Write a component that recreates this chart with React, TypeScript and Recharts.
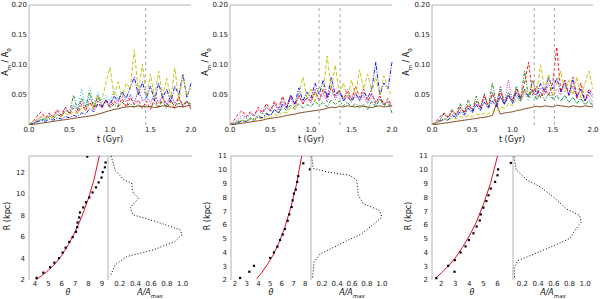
import { LineChart, Line, XAxis, YAxis, ReferenceLine, ScatterChart, Scatter } from 'recharts';

// time grid (Gyr)
const TIME = [0, 0.05, 0.1, 0.15, 0.2, 0.25, 0.3, 0.35, 0.4, 0.45, 0.5, 0.55, 0.6, 0.65, 0.7, 0.75, 0.8, 0.85, 0.9, 0.95, 1.0,
  1.05, 1.1, 1.15, 1.2, 1.25, 1.3, 1.35, 1.4, 1.45, 1.5, 1.55, 1.6, 1.65, 1.7, 1.75, 1.8, 1.85, 1.9, 1.95, 2.0];

const T_TICKS = [0, 0.5, 1.0, 1.5, 2.0];
const A_TICKS = [0.05, 0.1, 0.15, 0.2];

// panel 1 amplitudes
const P1_YEL = [0.002, 0.004, 0.010, 0.014, 0.011, 0.015, 0.012, 0.017, 0.014, 0.019, 0.016, 0.022, 0.019, 0.028, 0.024, 0.036, 0.030, 0.048, 0.042, 0.070, 0.096, 0.048, 0.072, 0.045, 0.070, 0.060, 0.125, 0.055, 0.102, 0.048, 0.085, 0.044, 0.090, 0.050, 0.078, 0.045, 0.095, 0.040, 0.082, 0.048, 0.062];
const P1_BLU = [0.001, 0.003, 0.005, 0.008, 0.006, 0.010, 0.008, 0.012, 0.010, 0.014, 0.012, 0.016, 0.014, 0.020, 0.018, 0.028, 0.022, 0.035, 0.030, 0.042, 0.035, 0.048, 0.040, 0.055, 0.045, 0.062, 0.080, 0.050, 0.072, 0.045, 0.065, 0.040, 0.070, 0.045, 0.060, 0.038, 0.065, 0.050, 0.085, 0.045, 0.070];
const P1_RED = [0.001, 0.006, 0.015, 0.022, 0.012, 0.020, 0.014, 0.026, 0.016, 0.030, 0.018, 0.028, 0.020, 0.034, 0.024, 0.038, 0.026, 0.040, 0.028, 0.042, 0.030, 0.040, 0.032, 0.044, 0.030, 0.046, 0.034, 0.042, 0.028, 0.040, 0.026, 0.044, 0.030, 0.046, 0.032, 0.042, 0.028, 0.048, 0.030, 0.040, 0.026];
const P1_GRN = [0.001, 0.002, 0.006, 0.010, 0.008, 0.014, 0.010, 0.018, 0.014, 0.024, 0.020, 0.050, 0.025, 0.045, 0.030, 0.055, 0.028, 0.048, 0.030, 0.040, 0.028, 0.035, 0.030, 0.038, 0.032, 0.036, 0.030, 0.034, 0.028, 0.032, 0.030, 0.036, 0.030, 0.040, 0.028, 0.038, 0.032, 0.036, 0.034, 0.040, 0.035];
const P1_MAG = [0.001, 0.004, 0.008, 0.014, 0.010, 0.018, 0.014, 0.024, 0.016, 0.028, 0.020, 0.032, 0.024, 0.040, 0.026, 0.045, 0.030, 0.050, 0.034, 0.040, 0.032, 0.048, 0.036, 0.055, 0.038, 0.050, 0.034, 0.060, 0.040, 0.045, 0.036, 0.052, 0.038, 0.048, 0.034, 0.050, 0.036, 0.045, 0.032, 0.040, 0.030];
const P1_CYA = [0.001, 0.003, 0.006, 0.010, 0.008, 0.016, 0.012, 0.022, 0.016, 0.030, 0.020, 0.034, 0.026, 0.060, 0.030, 0.062, 0.034, 0.055, 0.036, 0.050, 0.040, 0.060, 0.042, 0.058, 0.044, 0.052, 0.040, 0.056, 0.042, 0.048, 0.038, 0.050, 0.036, 0.046, 0.034, 0.048, 0.036, 0.042, 0.032, 0.040, 0.030];
const P1_DRK = [0.000, 0.001, 0.002, 0.003, 0.004, 0.005, 0.006, 0.007, 0.008, 0.009, 0.010, 0.011, 0.012, 0.013, 0.014, 0.015, 0.016, 0.018, 0.020, 0.022, 0.024, 0.026, 0.027, 0.029, 0.030, 0.031, 0.030, 0.032, 0.031, 0.030, 0.031, 0.029, 0.030, 0.032, 0.031, 0.030, 0.029, 0.031, 0.030, 0.032, 0.033];

// panel 2 amplitudes
const P2_YEL = [0.001, 0.003, 0.006, 0.008, 0.007, 0.010, 0.009, 0.012, 0.010, 0.014, 0.012, 0.018, 0.015, 0.022, 0.020, 0.030, 0.026, 0.050, 0.080, 0.045, 0.060, 0.040, 0.065, 0.055, 0.115, 0.060, 0.100, 0.050, 0.070, 0.045, 0.075, 0.050, 0.092, 0.060, 0.085, 0.055, 0.080, 0.050, 0.082, 0.060, 0.048];
const P2_BLU = [0.001, 0.002, 0.004, 0.007, 0.006, 0.010, 0.008, 0.014, 0.012, 0.018, 0.016, 0.026, 0.020, 0.035, 0.028, 0.050, 0.035, 0.062, 0.040, 0.055, 0.045, 0.070, 0.050, 0.075, 0.045, 0.080, 0.050, 0.058, 0.040, 0.048, 0.038, 0.052, 0.042, 0.055, 0.045, 0.060, 0.105, 0.050, 0.070, 0.060, 0.105];
const P2_RED = [0.001, 0.008, 0.018, 0.024, 0.014, 0.022, 0.016, 0.030, 0.020, 0.036, 0.024, 0.040, 0.028, 0.048, 0.030, 0.050, 0.034, 0.048, 0.036, 0.045, 0.040, 0.055, 0.042, 0.060, 0.046, 0.062, 0.048, 0.058, 0.044, 0.055, 0.042, 0.065, 0.046, 0.060, 0.040, 0.052, 0.036, 0.048, 0.034, 0.044, 0.032];
const P2_GRN = [0.001, 0.002, 0.005, 0.008, 0.006, 0.012, 0.010, 0.016, 0.012, 0.020, 0.016, 0.026, 0.020, 0.030, 0.024, 0.034, 0.026, 0.036, 0.028, 0.034, 0.030, 0.040, 0.032, 0.038, 0.030, 0.042, 0.034, 0.040, 0.032, 0.038, 0.030, 0.036, 0.028, 0.034, 0.026, 0.040, 0.030, 0.044, 0.032, 0.038, 0.020];
const P2_MAG = [0.001, 0.004, 0.010, 0.016, 0.012, 0.020, 0.016, 0.026, 0.018, 0.030, 0.022, 0.036, 0.024, 0.040, 0.028, 0.045, 0.030, 0.050, 0.034, 0.045, 0.036, 0.060, 0.040, 0.055, 0.038, 0.065, 0.042, 0.058, 0.040, 0.060, 0.044, 0.055, 0.040, 0.050, 0.036, 0.052, 0.038, 0.048, 0.034, 0.040, 0.030];
const P2_CYA = [0.001, 0.003, 0.007, 0.012, 0.010, 0.018, 0.014, 0.024, 0.018, 0.030, 0.022, 0.036, 0.026, 0.046, 0.030, 0.050, 0.034, 0.052, 0.036, 0.048, 0.040, 0.054, 0.042, 0.050, 0.044, 0.056, 0.046, 0.052, 0.042, 0.050, 0.040, 0.048, 0.038, 0.046, 0.036, 0.044, 0.034, 0.042, 0.032, 0.040, 0.030];
const P2_DRK = [0.000, 0.001, 0.002, 0.003, 0.004, 0.005, 0.006, 0.007, 0.008, 0.010, 0.011, 0.012, 0.013, 0.014, 0.016, 0.017, 0.018, 0.020, 0.021, 0.022, 0.023, 0.024, 0.025, 0.026, 0.028, 0.030, 0.029, 0.031, 0.030, 0.032, 0.031, 0.030, 0.032, 0.031, 0.030, 0.029, 0.031, 0.032, 0.030, 0.031, 0.032];

// panel 3 amplitudes
const P3_YEL = [0.001, 0.003, 0.006, 0.009, 0.008, 0.012, 0.010, 0.014, 0.012, 0.016, 0.014, 0.018, 0.016, 0.020, 0.018, 0.024, 0.022, 0.030, 0.028, 0.036, 0.032, 0.045, 0.040, 0.060, 0.045, 0.075, 0.055, 0.100, 0.060, 0.085, 0.050, 0.070, 0.090, 0.055, 0.075, 0.050, 0.080, 0.045, 0.070, 0.090, 0.060];
const P3_BLU = [0.001, 0.003, 0.006, 0.010, 0.008, 0.016, 0.012, 0.022, 0.016, 0.028, 0.020, 0.034, 0.024, 0.038, 0.028, 0.040, 0.030, 0.048, 0.034, 0.050, 0.036, 0.055, 0.040, 0.060, 0.045, 0.075, 0.050, 0.070, 0.055, 0.080, 0.060, 0.078, 0.055, 0.070, 0.050, 0.075, 0.048, 0.060, 0.040, 0.055, 0.045];
const P3_RED = [0.001, 0.006, 0.014, 0.020, 0.012, 0.024, 0.016, 0.030, 0.020, 0.034, 0.024, 0.040, 0.028, 0.050, 0.030, 0.052, 0.034, 0.055, 0.036, 0.050, 0.040, 0.060, 0.045, 0.070, 0.105, 0.050, 0.065, 0.045, 0.060, 0.050, 0.070, 0.130, 0.055, 0.075, 0.050, 0.080, 0.045, 0.070, 0.040, 0.060, 0.050];
const P3_GRN = [0.001, 0.003, 0.008, 0.020, 0.014, 0.026, 0.018, 0.036, 0.020, 0.042, 0.024, 0.048, 0.028, 0.052, 0.030, 0.070, 0.034, 0.060, 0.036, 0.055, 0.040, 0.065, 0.042, 0.090, 0.046, 0.060, 0.042, 0.055, 0.040, 0.052, 0.044, 0.048, 0.040, 0.050, 0.038, 0.046, 0.036, 0.044, 0.034, 0.040, 0.032];
const P3_MAG = [0.001, 0.004, 0.010, 0.018, 0.012, 0.022, 0.016, 0.028, 0.020, 0.032, 0.024, 0.040, 0.028, 0.046, 0.030, 0.055, 0.034, 0.065, 0.038, 0.075, 0.040, 0.060, 0.044, 0.055, 0.046, 0.058, 0.048, 0.062, 0.050, 0.070, 0.046, 0.060, 0.050, 0.075, 0.048, 0.065, 0.044, 0.060, 0.040, 0.050, 0.036];
const P3_CYA = [0.001, 0.003, 0.007, 0.012, 0.010, 0.018, 0.014, 0.024, 0.018, 0.028, 0.022, 0.032, 0.026, 0.038, 0.030, 0.042, 0.032, 0.046, 0.034, 0.050, 0.036, 0.048, 0.038, 0.052, 0.040, 0.050, 0.042, 0.054, 0.044, 0.052, 0.042, 0.050, 0.040, 0.048, 0.038, 0.046, 0.036, 0.044, 0.034, 0.042, 0.032];
const P3_DRK = [0.000, 0.001, 0.002, 0.003, 0.004, 0.005, 0.006, 0.007, 0.008, 0.009, 0.010, 0.011, 0.012, 0.013, 0.014, 0.016, 0.035, 0.018, 0.020, 0.021, 0.022, 0.024, 0.025, 0.027, 0.028, 0.030, 0.031, 0.030, 0.032, 0.031, 0.030, 0.033, 0.032, 0.031, 0.030, 0.032, 0.031, 0.030, 0.032, 0.031, 0.030];

// vertical markers (Gyr)
const P1_MARKS = [1.44];
const P2_MARKS = [1.1, 1.36];
const P3_MARKS = [1.27, 1.52];

// pitch angle vs radius: measured points
const S1_THETA = [4.12, 4.62, 5.12, 5.44, 5.79, 6.06, 6.29, 6.56, 6.81, 7.06, 7.15, 7.18, 7.3, 7.36, 7.6, 7.8, 8.05, 8.3, 8.55, 8.75, 8.97, 9.05, 9.22, 9.27, 7.9];
const S1_R = [2.2, 2.68, 3.18, 3.61, 4.02, 4.54, 5.0, 5.53, 5.97, 6.47, 6.9, 7.33, 7.8, 8.26, 8.73, 9.2, 9.66, 10.12, 10.59, 11.05, 11.5, 12.0, 12.45, 12.9, 13.45];
const S2_THETA = [2.43, 3.22, 3.62, 5.0, 5.33, 5.62, 5.85, 6.08, 6.27, 6.5, 6.64, 6.84, 6.93, 7.04, 7.2, 7.32, 7.41, 7.84, 8.41];
const S2_R = [2.15, 2.6, 3.03, 3.6, 4.0, 4.42, 4.9, 5.3, 5.7, 6.3, 6.76, 7.3, 7.78, 8.27, 8.56, 9.12, 9.54, 10.47, 10.03];
const S3_THETA = [1.66, 2.5, 2.95, 2.97, 3.38, 3.73, 3.97, 4.29, 4.52, 4.74, 4.81, 5.0, 5.21, 5.36, 5.52, 5.83, 6.0, 6.04, 6.95];
const S3_R = [2.13, 3.03, 2.6, 3.44, 4.0, 4.44, 4.9, 5.39, 5.88, 6.32, 6.76, 7.25, 7.73, 8.15, 8.64, 9.12, 9.6, 10.03, 10.5];

// fitted spiral (red)
const F1_THETA = [4.05, 4.5, 5.0, 5.5, 6.0, 6.5, 7.0, 7.5, 8.0, 8.4, 8.8];
const F1_R = [2.0, 2.4, 2.9, 3.5, 4.3, 5.3, 6.5, 7.9, 9.6, 11.3, 13.5];
const F2_THETA = [3.85, 4.25, 4.75, 5.25, 5.75, 6.25, 6.75, 7.25, 7.7];
const F2_R = [2.1, 2.5, 3.1, 3.8, 4.7, 5.8, 7.2, 8.9, 11.0];
const F3_THETA = [1.6, 2.0, 2.5, 3.0, 3.5, 4.0, 4.5, 5.0, 5.5, 6.0];
const F3_R = [2.13, 2.5, 3.0, 3.6, 4.35, 5.2, 6.2, 7.5, 9.0, 11.0];

// amplitude profiles A/A_max vs R
const Q1_A = [0.09, 0.14, 0.25, 0.35, 0.37, 0.44, 0.33, 0.37, 0.67, 0.97, 0.99, 0.9, 0.63, 0.29, 0.14, 0.076];
const Q1_R = [13.5, 12.2, 11.3, 11.0, 10.07, 9.6, 8.67, 8.05, 7.4, 6.65, 6.2, 5.56, 4.8, 4.17, 3.4, 2.3];
const Q2_A = [0.06, 0.08, 0.26, 0.57, 0.66, 0.68, 0.68, 0.75, 0.97, 1.0, 0.84, 0.73, 0.53, 0.35, 0.17, 0.09, 0.07];
const Q2_R = [10.95, 10.1, 9.85, 9.6, 9.25, 8.64, 8.2, 7.54, 7.05, 6.56, 5.83, 5.35, 4.85, 4.36, 3.88, 3.27, 2.17];
const Q3_A = [0.095, 0.12, 0.26, 0.43, 0.6, 0.76, 0.93, 0.95, 0.87, 0.8, 0.55, 0.35, 0.14, 0.095, 0.1];
const Q3_R = [10.95, 10.0, 9.25, 8.75, 8.0, 7.17, 6.68, 6.2, 5.6, 5.0, 4.37, 3.88, 3.4, 2.9, 2.17];

const PROFILE_TICKS = [0.2, 0.4, 0.6, 0.8, 1.0];

const FONT = '"DejaVu Sans", sans-serif';
const AXIS = '#b4b4b4';
const TICK = { fontSize: 7, fill: '#222', fontFamily: FONT };

const STYLES = [
  { key: 'drk', color: '#7a3a10', dash: undefined },
  { key: 'cya', color: '#00bfbf', dash: '1 2' },
  { key: 'mag', color: '#bf00bf', dash: '1 1.5' },
  { key: 'grn', color: '#008000', dash: '3 1.5 1 1.5' },
  { key: 'red', color: '#ff0000', dash: '3 2' },
  { key: 'blu', color: '#0000ff', dash: '4 1.5 1 1.5' },
  { key: 'yel', color: '#bfbf00', dash: '4 2' },
];

const pairs = (xs: number[], ys: number[]) => xs.map((x, i) => ({ x, y: ys[i] }));

function TopPanel({ left, axisW, right, series, marks }: any) {
  const rows = TIME.map((t, i) => {
    const row: any = { t };
    STYLES.forEach((s) => { row[s.key] = series[s.key][i]; });
    return row;
  });
  return (
    <div style={{ position: 'absolute', left, top: 0 }}>
      <LineChart width={200} height={150} data={rows} margin={{ top: 5, right, bottom: 0, left: 0 }}>
        <XAxis dataKey="t" type="number" domain={[0, 2]} ticks={T_TICKS} interval={0}
          tickFormatter={(v: number) => v.toFixed(1)} axisLine={false} tickLine={false}
          tick={TICK} height={25} tickSize={1} tickMargin={1} />
        <YAxis type="number" domain={[0, 0.2]} ticks={A_TICKS} interval={0} allowDataOverflow
          tickFormatter={(v: number) => v.toFixed(2)} width={axisW} axisLine={{ stroke: AXIS }}
          tickLine={false} tick={TICK} tickSize={1} tickMargin={1} />
        <ReferenceLine y={0.2} stroke={AXIS} />
        {STYLES.map((s) => (
          <Line key={s.key} type="linear" dataKey={s.key} stroke={s.color} strokeDasharray={s.dash}
            strokeWidth={0.9} dot={false} isAnimationActive={false} />
        ))}
        {marks.map((m: number) => (
          <ReferenceLine key={m} x={m} stroke="#a8a8a8" strokeDasharray="3 3" />
        ))}
      </LineChart>
    </div>
  );
}

const Dot = (p: any) => <rect x={p.cx - 1.1} y={p.cy - 1.1} width={2.2} height={2.2} fill="#000" />;
const NoDot = () => <g />;

function SpiralPanel({ left, axisW, width, xDomain, xTicks, yDomain, yTicks, points, fit }: any) {
  return (
    <div style={{ position: 'absolute', left, top: 150 }}>
      <ScatterChart width={width} height={149} margin={{ top: 6, right: 2, bottom: 0, left: 0 }}>
        <XAxis dataKey="x" type="number" domain={xDomain} ticks={xTicks} interval={0} allowDataOverflow
          axisLine={false} tickLine={false} tick={TICK} height={19} tickSize={1} tickMargin={0} />
        <YAxis dataKey="y" type="number" domain={yDomain} ticks={yTicks} interval={0} allowDataOverflow
          width={axisW} axisLine={{ stroke: AXIS }} tickLine={false} tick={TICK} tickSize={2} tickMargin={2} />
        <ReferenceLine y={yDomain[1]} stroke={AXIS} />
        <Scatter data={fit} line={{ stroke: '#e0102a', strokeWidth: 1 }} lineType="joint" shape={NoDot}
          isAnimationActive={false} />
        <Scatter data={points} shape={Dot} isAnimationActive={false} />
      </ScatterChart>
    </div>
  );
}

function ProfilePanel({ left, width, xDomain, yDomain, profile }: any) {
  return (
    <div style={{ position: 'absolute', left, top: 150 }}>
      <ScatterChart width={width} height={149} margin={{ top: 6, right: 2, bottom: 0, left: 0 }}>
        <XAxis dataKey="x" type="number" domain={xDomain} ticks={PROFILE_TICKS} interval={0} allowDataOverflow
          tickFormatter={(v: number) => v.toFixed(1)} axisLine={false} tickLine={false} tick={TICK}
          height={19} tickSize={1} tickMargin={0} />
        <YAxis dataKey="y" type="number" domain={yDomain} width={10} tick={false} tickLine={false}
          axisLine={{ stroke: AXIS }} allowDataOverflow />
        <ReferenceLine y={yDomain[1]} stroke={AXIS} />
        <Scatter data={profile} line={{ stroke: '#000', strokeWidth: 1, strokeDasharray: '1 2' }}
          lineType="joint" shape={NoDot} isAnimationActive={false} />
      </ScatterChart>
    </div>
  );
}

const label: any = { position: 'absolute', fontFamily: FONT, fontSize: 8, lineHeight: 1, color: '#111', whiteSpace: 'nowrap', transform: 'translate(-50%,-50%)' };
const vlabel: any = { ...label, transform: 'translate(-50%,-50%) rotate(-90deg)' };

const AmpLabel = () => <span>A<sub style={{ fontSize: 5.5 }}>m</sub> / A<sub style={{ fontSize: 5.5 }}>0</sub></span>;
const ProfLabel = () => <i>A/A<sub style={{ fontSize: 5.5 }}>max</sub></i>;

export default function App() {
  const s1 = { yel: P1_YEL, blu: P1_BLU, red: P1_RED, grn: P1_GRN, mag: P1_MAG, cya: P1_CYA, drk: P1_DRK };
  const s2 = { yel: P2_YEL, blu: P2_BLU, red: P2_RED, grn: P2_GRN, mag: P2_MAG, cya: P2_CYA, drk: P2_DRK };
  const s3 = { yel: P3_YEL, blu: P3_BLU, red: P3_RED, grn: P3_GRN, mag: P3_MAG, cya: P3_CYA, drk: P3_DRK };
  const rTicks1 = [2, 4, 6, 8, 10, 12];
  const rTicks = [2, 3, 4, 5, 6, 7, 8, 9, 10, 11];
  return (
    <div style={{ position: 'absolute', left: 0, top: 0, width: 600, height: 299, overflow: 'hidden', background: '#fff' }}>
      <TopPanel left={0} axisW={29} right={9} series={s1} marks={P1_MARKS} />
      <TopPanel left={200} axisW={30} right={8} series={s2} marks={P2_MARKS} />
      <TopPanel left={400} axisW={32} right={7} series={s3} marks={P3_MARKS} />

      <SpiralPanel left={0} axisW={29} width={110} xDomain={[3.55, 9.45]} xTicks={[4, 5, 6, 7, 8, 9]}
        yDomain={[2, 13.5]} yTicks={rTicks1} points={pairs(S1_THETA, S1_R)} fit={pairs(F1_THETA, F1_R)} />
      <ProfilePanel left={98} width={96} xDomain={[0.05, 1.12]} yDomain={[2, 13.5]} profile={pairs(Q1_A, Q1_R)} />

      <SpiralPanel left={200} axisW={31} width={113} xDomain={[1.65, 8.5]} xTicks={[2, 3, 4, 5, 6, 7, 8]}
        yDomain={[2, 11]} yTicks={rTicks} points={pairs(S2_THETA, S2_R)} fit={pairs(F2_THETA, F2_R)} />
      <ProfilePanel left={301} width={94} xDomain={[0.05, 1.15]} yDomain={[2, 11]} profile={pairs(Q2_A, Q2_R)} />

      <SpiralPanel left={400} axisW={32} width={115} xDomain={[1.35, 7.1]} xTicks={[2, 3, 4, 5, 6]}
        yDomain={[2, 11]} yTicks={rTicks} points={pairs(S3_THETA, S3_R)} fit={pairs(F3_THETA, F3_R)} />
      <ProfilePanel left={503} width={92} xDomain={[0.08, 1.1]} yDomain={[2, 11]} profile={pairs(Q3_A, Q3_R)} />

      <div style={{ ...label, left: 110, top: 140 }}>t (Gyr)</div>
      <div style={{ ...label, left: 311, top: 140 }}>t (Gyr)</div>
      <div style={{ ...label, left: 512, top: 140 }}>t (Gyr)</div>
      <div style={{ ...vlabel, left: 7, top: 62 }}><AmpLabel /></div>
      <div style={{ ...vlabel, left: 207, top: 62 }}><AmpLabel /></div>
      <div style={{ ...vlabel, left: 408, top: 62 }}><AmpLabel /></div>

      <div style={{ ...vlabel, left: 8, top: 216 }}>R (kpc)</div>
      <div style={{ ...vlabel, left: 208, top: 216 }}>R (kpc)</div>
      <div style={{ ...vlabel, left: 409, top: 216 }}>R (kpc)</div>
      <div style={{ ...label, left: 68, top: 293 }}><i>θ</i></div>
      <div style={{ ...label, left: 271, top: 293 }}><i>θ</i></div>
      <div style={{ ...label, left: 472, top: 293 }}><i>θ</i></div>
      <div style={{ ...label, left: 150, top: 294 }}><ProfLabel /></div>
      <div style={{ ...label, left: 352, top: 294 }}><ProfLabel /></div>
      <div style={{ ...label, left: 553, top: 294 }}><ProfLabel /></div>
    </div>
  );
}
